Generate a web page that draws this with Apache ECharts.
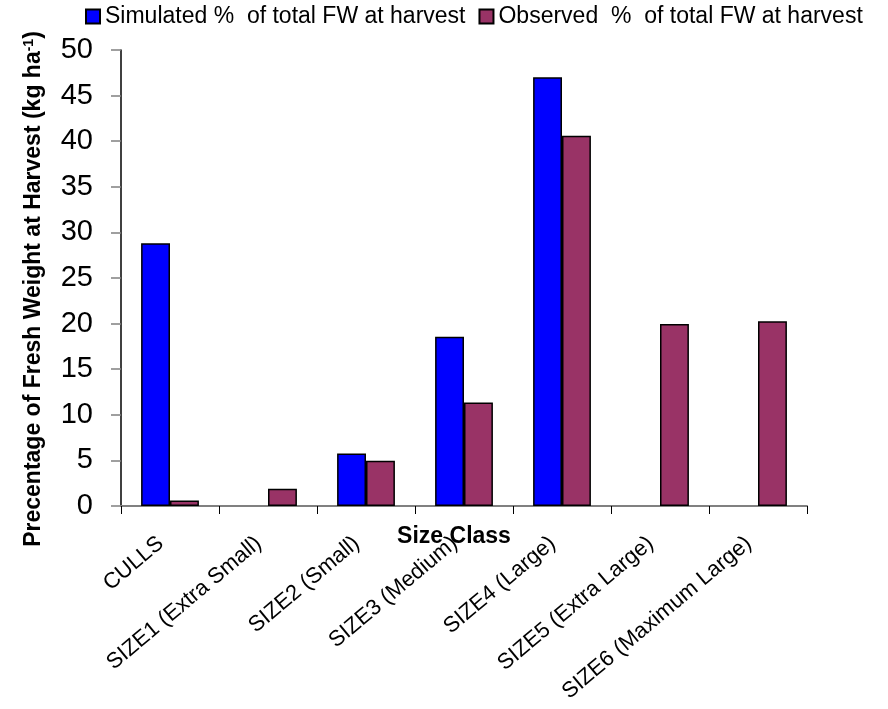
<!DOCTYPE html>
<html>
<head>
<meta charset="utf-8">
<script src="https://cdn.jsdelivr.net/npm/echarts@6/dist/echarts.min.js"></script>
<style>html,body{margin:0;padding:0;background:#fff}#c{width:888px;height:709px}</style>
</head>
<body>
<div id="c"></div>
<script>
var categories = ['CULLS', 'SIZE1 (Extra Small)', 'SIZE2 (Small)', 'SIZE3 (Medium)', 'SIZE4 (Large)', 'SIZE5 (Extra Large)', 'SIZE6 (Maximum Large)'];
var simulated = [28.8, 0, 5.75, 18.55, 47.0, 0, 0];
var observed = [0.6, 1.9, 4.95, 11.35, 40.6, 19.95, 20.25];
var yTicks = {min: 0, max: 50, interval: 5};
var seriesNames = ['Simulated %  of total FW at harvest', 'Observed  %  of total FW at harvest'];

function nz(arr){ return arr.map(function(v){ return v === 0 ? null : v; }); }

var font = '"Liberation Sans", Arial, sans-serif';
var chart = echarts.init(document.getElementById('c'), null, {renderer: 'canvas'});
chart.setOption({
  animation: false,
  backgroundColor: '#fff',
  textStyle: {fontFamily: font, color: '#000'},
  legend: {
    left: 80, top: 0,
    itemWidth: 14, itemHeight: 14, itemGap: 13,
    icon: 'rect',
    textStyle: {fontFamily: font, fontSize: 23, color: '#000'},
    data: seriesNames
  },
  grid: {left: 121, top: 50, width: 686, height: 456, containLabel: false, outerBoundsMode: 'none'},
  xAxis: {
    type: 'category',
    data: categories,
    name: 'Size Class',
    nameLocation: 'middle',
    nameGap: 19,
    nameMoveOverlap: false,
    nameTextStyle: {fontFamily: font, fontSize: 23, fontWeight: 'bold', color: '#000', padding: [0, 20, 0, 0]},
    axisLine: {lineStyle: {color: '#808080', width: 2}},
    axisTick: {show: true, length: 8, lineStyle: {color: '#000', width: 1}},
    axisLabel: {rotate: 40, fontFamily: font, fontSize: 22, color: '#000', margin: 27, interval: 0, hideOverlap: false, padding: [0, 12, 0, 0]},
    splitLine: {show: false}
  },
  yAxis: {
    type: 'value',
    min: yTicks.min, max: yTicks.max, interval: yTicks.interval,
    name: '{a|Precentage of Fresh Weight at Harvest (kg ha}{s|-1}{a|)}',
    nameLocation: 'middle',
    nameRotate: 90,
    nameGap: 76,
    nameMoveOverlap: false,
    nameTextStyle: {
      fontFamily: font, fontSize: 23, fontWeight: 'bold', color: '#000',
      padding: [0, 22, 0, 0],
      rich: {
        a: {fontFamily: font, fontSize: 23, fontWeight: 'bold', color: '#000', verticalAlign: 'bottom'},
        s: {fontFamily: font, fontSize: 14, fontWeight: 'bold', color: '#000', verticalAlign: 'top'}
      }
    },
    axisLine: {show: true, lineStyle: {color: '#000', width: 1.5}},
    axisTick: {show: true, length: 10, lineStyle: {color: '#808080', width: 1.5}},
    axisLabel: {fontFamily: font, fontSize: 29, color: '#000', margin: 28},
    splitLine: {show: false}
  },
  series: [
    {
      name: seriesNames[0], type: 'bar', data: nz(simulated),
      barGap: '0%', barCategoryGap: '41%',
      itemStyle: {color: '#0000FF', borderColor: '#000', borderWidth: 1.5}
    },
    {
      name: seriesNames[1], type: 'bar', data: nz(observed),
      barGap: '0%', barCategoryGap: '41%',
      itemStyle: {color: '#993366', borderColor: '#000', borderWidth: 1.5}
    }
  ]
});
</script>
</body>
</html>
